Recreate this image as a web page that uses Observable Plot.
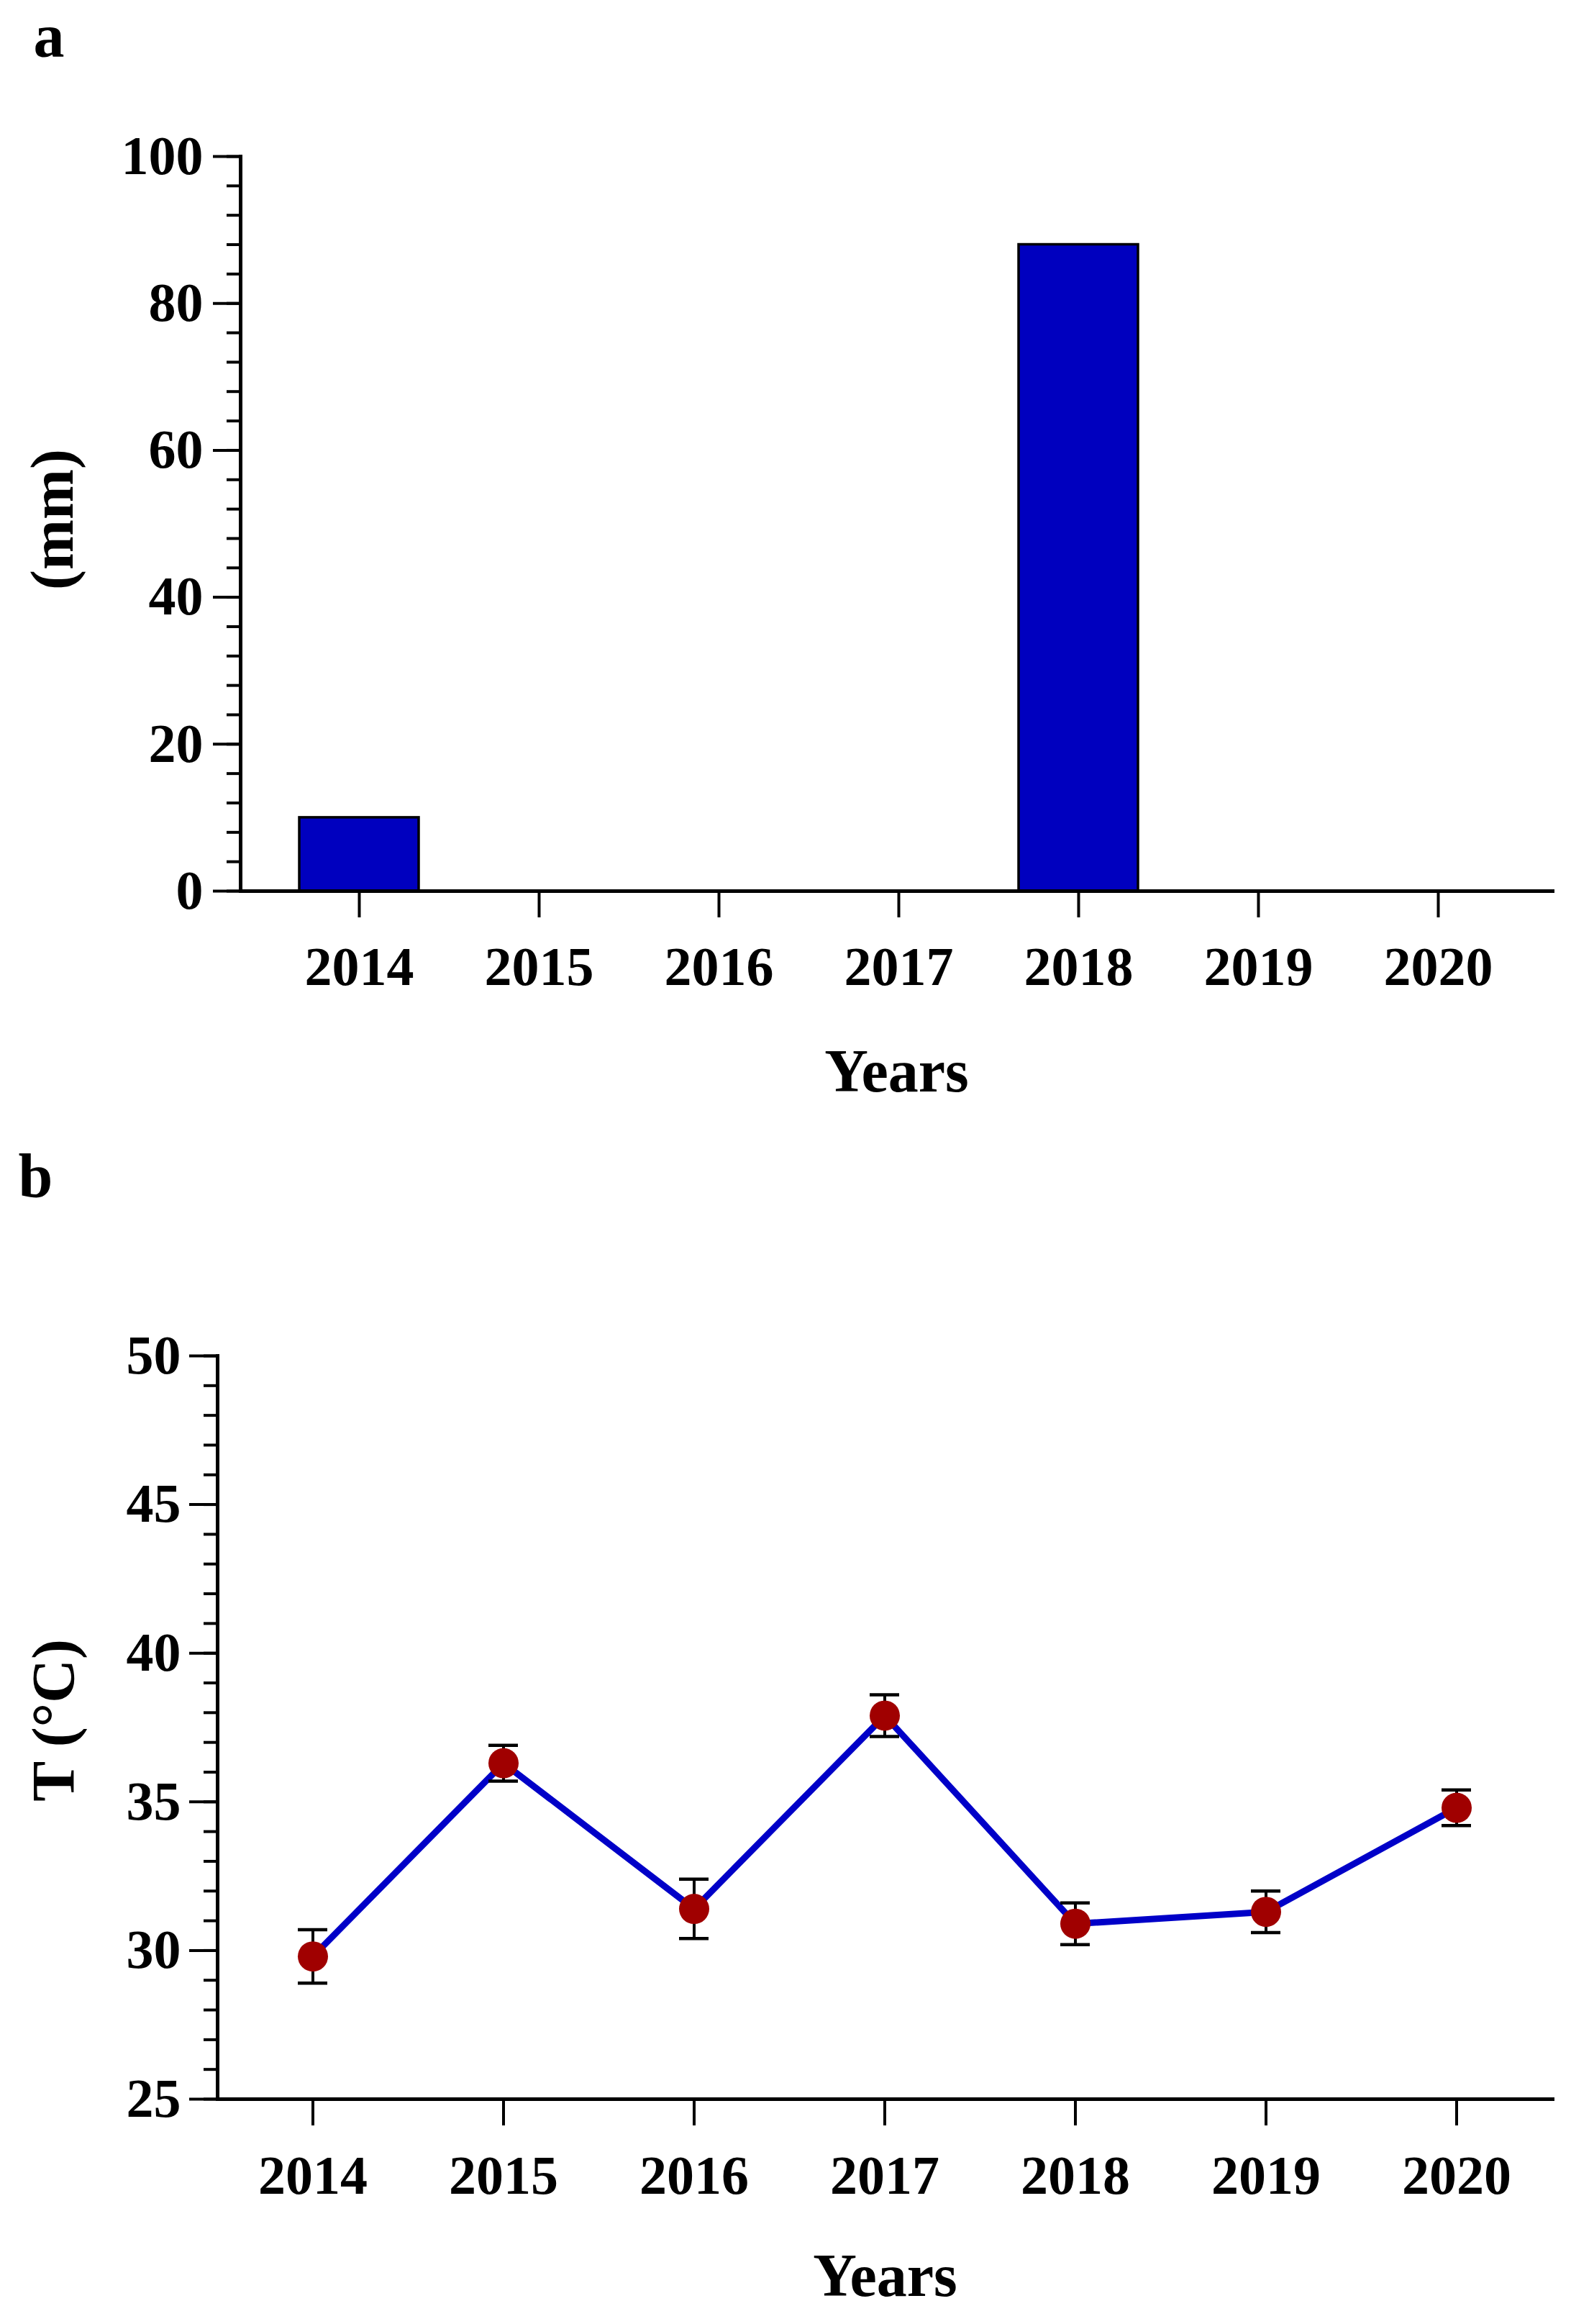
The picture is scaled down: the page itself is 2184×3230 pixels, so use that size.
<!DOCTYPE html>
<html><head><meta charset="utf-8">
<script src="https://cdn.jsdelivr.net/npm/d3@7"></script>
<script src="https://cdn.jsdelivr.net/npm/@observablehq/plot@0.6"></script>
<style>
html,body{margin:0;padding:0;background:#fff;}
#root{width:2184px;height:3230px;position:relative;overflow:hidden;background:#fff;}
#root svg{display:block;}
</style></head><body><div id="root"></div>
<script>
// ---- data ----
const years = ["2014", "2015", "2016", "2017", "2018", "2019", "2020"];
const rainfall = [10, 0, 0, 0, 88, 0, 0];           // panel a, mm
const tempMean = [29.8, 36.3, 31.4, 37.9, 30.9, 31.3, 34.8]; // panel b, °C
const tempErr  = [0.9, 0.6, 1.0, 0.7, 0.7, 0.7, 0.6];
const rainMajor = [0, 20, 40, 60, 80, 100];
const rainMinor = d3.range(0, 101, 4);
const tempMajor = [25, 30, 35, 40, 45, 50];
const tempMinor = d3.range(25, 51, 1);

const rain = years.map((year, i) => ({year, value: rainfall[i]}));
const temp = years.map((year, i) => ({year, mean: tempMean[i], lo: tempMean[i] - tempErr[i], hi: tempMean[i] + tempErr[i]}));

const W = 2184;
const style = {fontFamily: "'Liberation Serif', 'DejaVu Serif', serif", fontWeight: "bold", background: "white", color: "black", overflow: "visible"};
const TICK_FS = 76, LABEL_FS = 84, LETTER_FS = 86;

const plotA = Plot.plot({
  width: W, height: 1600,
  marginTop: 217, marginBottom: 362, marginLeft: 334, marginRight: 26,
  style,
  x: {type: "band", domain: years, paddingInner: 0.336, paddingOuter: 0.316, align: 0.52},
  y: {domain: [0, 100]},
  marks: [
    Plot.barY(rain.filter(d => d.value > 0), {x: "year", y: "value", fill: "#0000BF", stroke: "black", strokeWidth: 3.5}),
    Plot.axisY(rainMinor, {tickSize: 19, strokeWidth: 4, tickFormat: () => "", label: null}),
    Plot.axisY(rainMajor, {tickSize: 38, tickPadding: 14, strokeWidth: 4, fontSize: TICK_FS, label: null}),
    Plot.axisX({tickSize: 37, tickPadding: 40, strokeWidth: 4, fontSize: TICK_FS, label: null}),
    Plot.frame({anchor: "left", strokeWidth: 5}),
    Plot.frame({anchor: "bottom", strokeWidth: 5}),
    Plot.text(["Years"], {text: d => d, frameAnchor: "bottom", lineAnchor: "bottom", dy: 278, fontSize: LABEL_FS}),
    Plot.text(["(mm)"], {text: d => d, frameAnchor: "left", textAnchor: "middle", rotate: -90, lineAnchor: "bottom", dx: -234, dy: -6, fontSize: LABEL_FS}),
    Plot.text(["a"], {text: d => d, frameAnchor: "top-left", textAnchor: "start", lineAnchor: "bottom", dx: -288, dy: -139, fontSize: LETTER_FS})
  ]
});

const plotB = Plot.plot({
  width: W, height: 1630,
  marginTop: 284, marginBottom: 313, marginLeft: 302, marginRight: 26,
  style,
  x: {type: "band", domain: years, paddingInner: 0.845, paddingOuter: 0.4225},
  y: {domain: [25, 50]},
  marks: [
    Plot.axisY(tempMinor, {tickSize: 19, strokeWidth: 4, tickFormat: () => "", label: null}),
    Plot.axisY(tempMajor, {tickSize: 39, tickPadding: 12, strokeWidth: 4, fontSize: TICK_FS, label: null}),
    Plot.axisX({tickSize: 37, tickPadding: 41, strokeWidth: 4, fontSize: TICK_FS, label: null}),
    Plot.frame({anchor: "left", strokeWidth: 5}),
    Plot.frame({anchor: "bottom", strokeWidth: 5}),
    Plot.line(temp, {x: "year", y: "mean", stroke: "#0000C8", strokeWidth: 9}),
    Plot.ruleX(temp, {x: "year", y1: "lo", y2: "hi", stroke: "black", strokeWidth: 4}),
    Plot.tickY(temp, {x: "year", y: "lo", stroke: "black", strokeWidth: 4.5}),
    Plot.tickY(temp, {x: "year", y: "hi", stroke: "black", strokeWidth: 4.5}),
    Plot.dot(temp, {x: "year", y: "mean", r: 21, fill: "#A00000", stroke: null}),
    Plot.text(["Years"], {text: d => d, frameAnchor: "bottom", lineAnchor: "bottom", dy: 273, fontSize: LABEL_FS}),
    Plot.text(["T (°C)"], {text: d => d, frameAnchor: "left", textAnchor: "middle", rotate: -90, lineAnchor: "bottom", dx: -200, dy: -10, fontSize: LABEL_FS}),
    Plot.text(["b"], {text: d => d, frameAnchor: "top-left", textAnchor: "start", lineAnchor: "bottom", dx: -277, dy: -222, fontSize: LETTER_FS})
  ]
});

const root = document.getElementById("root");
root.appendChild(plotA);
root.appendChild(plotB);
</script></body></html>
